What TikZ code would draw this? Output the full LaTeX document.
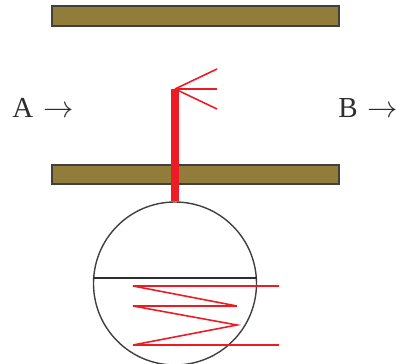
\documentclass[tikz,border=0pt]{standalone}
\usepackage{amsmath, amssymb}
\usepackage{fontspec}
\setmainfont{Liberation Serif}
\usepackage{tikz}

\definecolor{plateol}{HTML}{917C3A}
\definecolor{wirered}{HTML}{ED1C24}
\definecolor{edgegray}{HTML}{404040}

\begin{document}
\begin{tikzpicture}[
    plate/.style={draw=edgegray, fill=plateol, line width=0.9pt, minimum width=5.74cm, minimum height=0.39cm, inner sep=0pt},
    bulb/.style={circle, draw=edgegray, line width=0.8pt, minimum size=3.26cm, inner sep=0pt},
    stem/.style={draw=wirered, line width=4pt},
    wire/.style={draw=wirered, line width=0.9pt},
    lbl/.style={anchor=base west, inner sep=0pt, text=edgegray!70!black, font=\fontsize{16.5}{20}\selectfont}
]
    \useasboundingbox (0,0) rectangle (7.94,7.28);

    \node[plate] (platetop) at (3.91,6.96) {};
    \node[plate] (platelow) at (3.91,3.79) {};
    \node[bulb] (ball) at (3.50,1.61) {};

    \node[lbl] (a) at (0.24,4.92) {A\kern1.4pt{} $\rightarrow$};
    \node[lbl] (b) at (6.76,4.92) {B\kern1.4pt{} $\rightarrow$};

    \coordinate (tip) at (3.50,5.50);
    \coordinate (fan1) at (4.34,5.90);
    \coordinate (fan2) at (4.34,5.50);
    \coordinate (fan3) at (4.34,5.10);

    \coordinate (c1) at (5.58,1.56);
    \coordinate (c2) at (2.66,1.56);
    \coordinate (c3) at (4.74,1.16);
    \coordinate (c4) at (2.66,1.16);
    \coordinate (c5) at (4.74,0.78);
    \coordinate (c6) at (2.66,0.38);
    \coordinate (c7) at (5.58,0.38);

    \draw[edgegray!70!black, line width=1pt] (ball.176) -- (ball.4);
    \draw[wire] (c1) -- (c2) -- (c3) -- (c4) -- (c5) -- (c6) -- (c7);

    \draw[stem] (tip) -- (ball.north);
    \draw[wire] (tip) -- (fan1);
    \draw[wire] (tip) -- (fan2);
    \draw[wire] (tip) -- (fan3);
\end{tikzpicture}
\end{document}
